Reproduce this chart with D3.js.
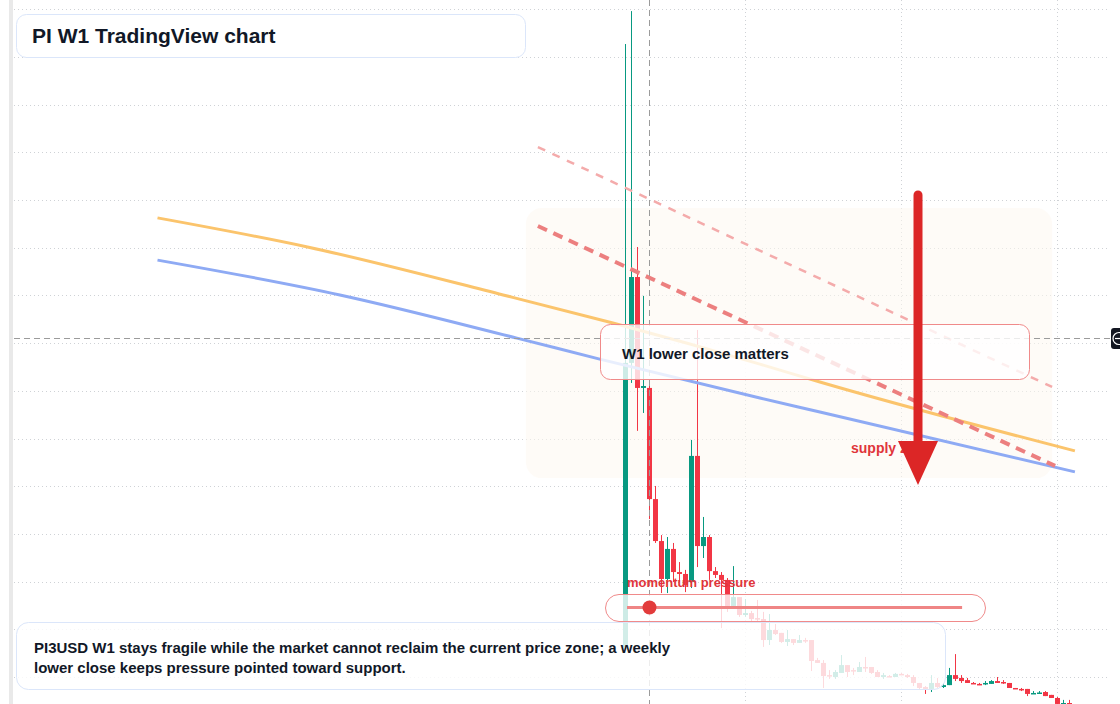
<!DOCTYPE html>
<html>
<head>
<meta charset="utf-8">
<script src="https://cdn.jsdelivr.net/npm/d3@7"></script>
<style>
  html, body { margin: 0; padding: 0; background: #fff; }
  svg { display: block; font-family: "Liberation Sans", Arial, sans-serif; }
</style>
</head>
<body>
<div id="main"></div>
<script>
// weekly PI3USD candles
const opens = [0.326, 1.517, 1.877, 1.412, 1.412, 0.946, 0.770, 0.611, 0.737, 0.640,
  0.632, 0.598, 1.127, 0.749, 0.787, 0.644, 0.628, 0.607, 0.498, 0.535,
  0.460, 0.468, 0.447, 0.443, 0.355, 0.397, 0.385, 0.347, 0.359, 0.343,
  0.355, 0.355, 0.271, 0.259, 0.208, 0.200, 0.217, 0.250, 0.229, 0.221,
  0.242, 0.242, 0.221, 0.200, 0.204, 0.200, 0.213, 0.208, 0.200, 0.175,
  0.158, 0.150, 0.175, 0.158, 0.166, 0.208, 0.196, 0.187, 0.175, 0.171,
  0.171, 0.171, 0.183, 0.179, 0.175, 0.154, 0.150, 0.150, 0.131, 0.133,
  0.137, 0.125, 0.112, 0.089, 0.091];
const highs = [2.854, 2.992, 2.003, 1.798, 1.433, 1.001, 0.795, 0.787, 0.762, 0.682,
  0.649, 1.194, 1.655, 0.871, 0.795, 0.661, 0.640, 0.615, 0.665, 0.535,
  0.527, 0.477, 0.523, 0.473, 0.464, 0.422, 0.385, 0.397, 0.359, 0.376,
  0.364, 0.355, 0.280, 0.271, 0.229, 0.229, 0.292, 0.250, 0.238, 0.263,
  0.284, 0.242, 0.229, 0.217, 0.208, 0.217, 0.217, 0.213, 0.208, 0.175,
  0.162, 0.208, 0.196, 0.175, 0.238, 0.296, 0.208, 0.196, 0.179, 0.175,
  0.183, 0.187, 0.200, 0.187, 0.175, 0.154, 0.154, 0.150, 0.141, 0.141,
  0.141, 0.125, 0.116, 0.104, 0.104];
const lows = [0.326, 1.433, 1.232, 1.307, 0.862, 0.762, 0.552, 0.552, 0.598, 0.598,
  0.556, 0.573, 0.661, 0.699, 0.607, 0.615, 0.405, 0.473, 0.498, 0.452,
  0.452, 0.426, 0.431, 0.326, 0.334, 0.376, 0.343, 0.330, 0.334, 0.343,
  0.343, 0.225, 0.259, 0.154, 0.192, 0.192, 0.217, 0.200, 0.208, 0.221,
  0.221, 0.213, 0.200, 0.192, 0.200, 0.200, 0.208, 0.196, 0.162, 0.150,
  0.129, 0.137, 0.154, 0.154, 0.166, 0.183, 0.175, 0.175, 0.171, 0.166,
  0.166, 0.171, 0.175, 0.171, 0.154, 0.150, 0.141, 0.120, 0.129, 0.129,
  0.120, 0.112, 0.083, 0.083, 0.083];
const closes = [1.517, 1.877, 1.412, 1.420, 0.946, 0.770, 0.611, 0.737, 0.640, 0.632,
  0.586, 1.127, 0.749, 0.787, 0.644, 0.628, 0.607, 0.498, 0.535, 0.460,
  0.468, 0.443, 0.443, 0.355, 0.397, 0.380, 0.347, 0.359, 0.343, 0.355,
  0.351, 0.267, 0.259, 0.204, 0.204, 0.221, 0.250, 0.221, 0.225, 0.242,
  0.238, 0.217, 0.200, 0.208, 0.200, 0.213, 0.208, 0.200, 0.175, 0.154,
  0.150, 0.175, 0.158, 0.166, 0.208, 0.192, 0.183, 0.175, 0.171, 0.166,
  0.175, 0.183, 0.175, 0.175, 0.154, 0.150, 0.148, 0.129, 0.133, 0.135,
  0.120, 0.112, 0.087, 0.091, 0.089];

// drawn annotations, as [week index, price]
const orangeLine = [[-78, 2.125], [-53, 2.003], [-20.4, 1.802], [-2.1, 1.684], [22.4, 1.512], [32.4, 1.437], [74.9, 1.148]];
const blueLine = [[-78, 1.948], [-47.6, 1.802], [-18.1, 1.621], [-4.3, 1.533], [22.4, 1.370], [32.4, 1.311], [74.9, 1.060]];
const resistanceLine = [[-14.6, 2.091], [71.6, 1.085]];
const upperLine = [[-14.6, 2.422], [71.1, 1.416]];
const supplyZone = [[-16.6, 2.166], [71.1, 1.034]];
const arrowPath = [[48.75, 2.221], [48.75, 1.005]];
const crosshair = [4, 1.621];
const momentumTrack = [0.25, 56.1];
const timeGrid = [19.9, 45.9, 71.9];

const width = 1120;
const height = 704;
const green = '#089981';
const red = '#f23645';

const x = d3.scaleLinear().domain([0, 74]).range([625.5, 1069.5]);
const y = d3.scaleLinear().domain([0, 3]).range([724.7, 9.2]);

const candles = opens.map((o, i) => ({ i, o, h: highs[i], l: lows[i], c: closes[i] }));

const svg = d3.select('#main').append('svg').attr('width', width).attr('height', height);

// left border strip
svg.append('rect').attr('x', 9).attr('y', 0).attr('width', 4).attr('height', height).attr('fill', '#e9e9e9');

// grid
const grid = svg.append('g').attr('stroke', '#cfd2d6').attr('stroke-width', 1).attr('stroke-dasharray', '1,3');
grid.selectAll('line.h')
  .data(y.ticks(15).filter((d) => d > 0))
  .enter()
  .append('line')
  .attr('x1', 14)
  .attr('x2', 1110)
  .attr('y1', (d) => Math.round(y(d)) + 0.5)
  .attr('y2', (d) => Math.round(y(d)) + 0.5);
grid.selectAll('line.v')
  .data(timeGrid)
  .enter()
  .append('line')
  .attr('x1', (d) => Math.round(x(d)) + 0.5)
  .attr('x2', (d) => Math.round(x(d)) + 0.5)
  .attr('y1', 0)
  .attr('y2', height);

// supply zone shading
svg.append('rect')
  .attr('x', x(supplyZone[0][0]))
  .attr('y', y(supplyZone[0][1]))
  .attr('width', x(supplyZone[1][0]) - x(supplyZone[0][0]))
  .attr('height', y(supplyZone[1][1]) - y(supplyZone[0][1]))
  .attr('rx', 16)
  .attr('fill', '#fdf7f1')
  .attr('opacity', 0.55);

// candles
const cg = svg.append('g');
cg.selectAll('line')
  .data(candles)
  .enter()
  .append('line')
  .attr('x1', (d) => x(d.i))
  .attr('x2', (d) => x(d.i))
  .attr('y1', (d) => y(d.h))
  .attr('y2', (d) => y(d.l))
  .attr('stroke', (d) => (d.c >= d.o ? green : red))
  .attr('stroke-width', 1);
cg.selectAll('rect')
  .data(candles)
  .enter()
  .append('rect')
  .attr('x', (d) => x(d.i) - 2.5)
  .attr('width', 5)
  .attr('y', (d) => y(Math.max(d.o, d.c)))
  .attr('height', (d) => Math.max(1.5, y(Math.min(d.o, d.c)) - y(Math.max(d.o, d.c))))
  .attr('fill', (d) => (d.c >= d.o ? green : red));

const line = d3.line().x((d) => x(d[0])).y((d) => y(d[1])).curve(d3.curveMonotoneX);

svg.append('path').attr('d', line(orangeLine)).attr('fill', 'none')
  .attr('stroke', '#fbc46c').attr('stroke-width', 3);
svg.append('path').attr('d', line(blueLine)).attr('fill', 'none')
  .attr('stroke', '#8eaaf4').attr('stroke-width', 3);

svg.append('path').attr('d', line(upperLine)).attr('fill', 'none')
  .attr('stroke', '#f4abab').attr('stroke-width', 2.5).attr('stroke-dasharray', '8,8');
svg.append('path').attr('d', line(resistanceLine)).attr('fill', 'none')
  .attr('stroke', '#ec7f7f').attr('stroke-width', 4).attr('stroke-dasharray', '10,7');

// crosshair
const ch = svg.append('g').attr('stroke', '#9b9b9b').attr('stroke-width', 1).attr('stroke-dasharray', '6,4');
ch.append('line').attr('x1', x(crosshair[0])).attr('x2', x(crosshair[0])).attr('y1', 0).attr('y2', height);
ch.append('line').attr('x1', 14).attr('x2', 1110)
  .attr('y1', Math.round(y(crosshair[1])) + 0.5).attr('y2', Math.round(y(crosshair[1])) + 0.5);

// price scale crosshair label
svg.append('rect').attr('x', 1111).attr('y', 328).attr('width', 20).attr('height', 21).attr('rx', 3).attr('fill', '#131722');
svg.append('circle').attr('cx', 1119).attr('cy', 338.5).attr('r', 6).attr('fill', 'none').attr('stroke', '#fff').attr('stroke-width', 1.2);
svg.append('line').attr('x1', 1115).attr('x2', 1123).attr('y1', 338.5).attr('y2', 338.5).attr('stroke', '#fff').attr('stroke-width', 1.2);

// title box
svg.append('rect').attr('x', 16.5).attr('y', 14.5).attr('width', 509).attr('height', 43).attr('rx', 10)
  .attr('fill', '#fff').attr('stroke', '#dbe6fa');
svg.append('text').attr('x', 32).attr('y', 43).attr('font-size', 21).attr('font-weight', 700)
  .attr('fill', '#111827').text('PI W1 TradingView chart');

// lower close callout
svg.append('rect').attr('x', 600.5).attr('y', 324.5).attr('width', 429).attr('height', 55).attr('rx', 10)
  .attr('fill', '#fff').attr('fill-opacity', 0.8).attr('stroke', '#f08a8a');
svg.append('text').attr('x', 622).attr('y', 359).attr('font-size', 15).attr('font-weight', 700)
  .attr('fill', '#111827').text('W1 lower close matters');

// momentum pressure
svg.append('text').attr('x', 627).attr('y', 587).attr('font-size', 13).attr('font-weight', 700)
  .attr('fill', '#e0353b').text('momentum pressure');
svg.append('rect').attr('x', 605.5).attr('y', 594.5).attr('width', 380).attr('height', 27).attr('rx', 13.5)
  .attr('fill', '#fff').attr('fill-opacity', 0.8).attr('stroke', '#f08a8a');
svg.append('line').attr('x1', x(momentumTrack[0])).attr('x2', x(momentumTrack[1])).attr('y1', 607.5).attr('y2', 607.5)
  .attr('stroke', '#ef8585').attr('stroke-width', 3);
svg.append('circle').attr('cx', x(crosshair[0])).attr('cy', 607.5).attr('r', 7).attr('fill', '#e23b3b');

// bottom note
svg.append('rect').attr('x', 16.5).attr('y', 622.5).attr('width', 929).attr('height', 67).attr('rx', 12)
  .attr('fill', '#fff').attr('fill-opacity', 0.82).attr('stroke', '#dbe6fa');
const note = svg.append('text').attr('font-size', 15).attr('font-weight', 700).attr('fill', '#111827');
note.append('tspan').attr('x', 34).attr('y', 653)
  .text('PI3USD W1 stays fragile while the market cannot reclaim the current price zone; a weekly');
note.append('tspan').attr('x', 34).attr('y', 673)
  .text('lower close keeps pressure pointed toward support.');

// supply zone label and arrow
svg.append('text').attr('x', 851).attr('y', 453).attr('font-size', 14).attr('font-weight', 700)
  .attr('fill', '#e0353b').text('supply zone');
const ax = x(arrowPath[0][0]);
const tipY = y(arrowPath[1][1]);
svg.append('line').attr('x1', ax).attr('x2', ax).attr('y1', y(arrowPath[0][1])).attr('y2', tipY - 40)
  .attr('stroke', '#dc2626').attr('stroke-width', 9).attr('stroke-linecap', 'round');
svg.append('path')
  .attr('d', `M${ax - 20},${tipY - 44}L${ax + 20},${tipY - 44}L${ax},${tipY}Z`)
  .attr('fill', '#dc2626');
</script>
</body>
</html>
